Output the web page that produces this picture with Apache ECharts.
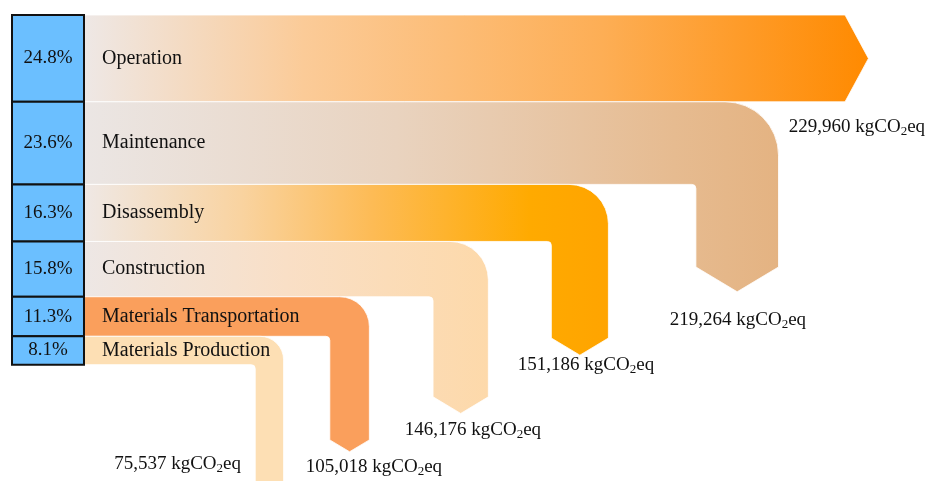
<!DOCTYPE html>
<html>
<head>
<meta charset="utf-8">
<script src="https://cdn.jsdelivr.net/npm/echarts@6/dist/echarts.min.js"></script>
<style>html,body{margin:0;padding:0;background:#fff}#chart{width:925px;height:481px}</style>
</head>
<body>
<div id="chart"></div>
<script>
// ---- data ----
const categories = ['Operation', 'Maintenance', 'Disassembly', 'Construction', 'Materials Transportation', 'Materials Production'];
const shares = [24.8, 23.6, 16.3, 15.8, 11.3, 8.1];
const emissions = [229960, 219264, 151186, 146176, 105018, 75537];
const unitLabel = 'kgCO';

// ---- layout (axis units: 1 unit = 1 percentage point) ----
const boxRight = 20.57;
const nameX = 25.71;
const bandOuterX = [238, 219, 170.4, 136.1, 102.1, 77.6];
const bandEndY = [null, 72, 92.3, 109.1, 121.4, 150];
const labelPos = [[241.4, 32], [207.4, 87.1], [164, 100], [131.7, 118.6], [103.4, 129.1], [47.3, 128.3]];

// ---- styles ----
const G = (stops) => new echarts.graphic.LinearGradient(0, 0, 1, 0, stops.map((c, k) => ({offset: c[0], color: c[1]})));
const bandFill = [
  G([[0, '#EEE8E6'], [0.28, '#FBCB98'], [0.66, '#FDAE55'], [1, '#FF8A00']]),
  G([[0, '#EBE6E4'], [0.45, '#E9D3BF'], [0.85, '#E6BB90'], [1, '#E4B382']]),
  G([[0, '#EFE8E5'], [0.3, '#F9D3A0'], [0.55, '#FDBB55'], [0.85, '#FFAA00'], [1, '#FFA400']]),
  G([[0, '#EDE7E5'], [0.5, '#F9DFC6'], [1, '#FDD9AA']]),
  '#FA9F5C',
  '#FDDFB4'
];
const FONT = '"Liberation Serif", "Times New Roman", serif';

const seriesData = categories.map((c, i) => {
  const start = shares.slice(0, i).reduce((a, b) => a + b, 0);
  return [i, start, start + shares[i], shares[i], emissions[i]];
});

function renderItem(params, api) {
  const i = api.value(0);
  const s = api.value(1), e = api.value(2);
  const p0 = api.coord([0, s]);
  const p1 = api.coord([boxRight, e]);
  const X0 = p0[0], L = p1[0], T = p0[1], B = p1[1];
  const w = B - T;
  let path;
  if (bandEndY[i] == null) {
    const E = api.coord([bandOuterX[i], s])[0];
    const tip = E + w * 0.27;
    path = `M${L} ${T}L${E} ${T}L${tip} ${(T + B) / 2}L${E} ${B}L${L} ${B}Z`;
  } else {
    const R = api.coord([bandOuterX[i], s])[0];
    const E = api.coord([0, bandEndY[i]])[1];
    const I = R - w;
    const ro = 0.55 * w + 8, ri = 4;
    const P = E + 0.3 * w;
    path = `M${L} ${T}L${R - ro} ${T}A${ro} ${ro} 0 0 1 ${R} ${T + ro}L${R} ${E}L${R - w / 2} ${P}L${I} ${E}L${I} ${B + ri}A${ri} ${ri} 0 0 0 ${I - ri} ${B}L${L} ${B}Z`;
  }
  const lp = api.coord(labelPos[i]);
  const nx = api.coord([nameX, s])[0];
  const valueText = `{n|${emissions[i].toLocaleString('en-US')} ${unitLabel}}{s|2}{n|eq}`;
  return {
    type: 'group',
    children: [
      {type: 'path', shape: {pathData: path}, style: {fill: bandFill[i], stroke: 'rgba(255,255,255,0.8)', lineWidth: 1}},
      {type: 'rect', shape: {x: X0, y: T, width: L - X0, height: w}, style: {fill: '#6BBFFF', stroke: '#111', lineWidth: 2}},
      {type: 'text', style: {text: shares[i].toFixed(1) + '%', x: (X0 + L) / 2, y: (T + B) / 2, align: 'center', verticalAlign: 'middle', fontSize: 19, fontFamily: FONT, fill: '#111'}},
      {type: 'text', style: {text: categories[i], x: nx, y: (T + B) / 2, align: 'left', verticalAlign: 'middle', fontSize: 20, fontFamily: FONT, fill: '#111'}},
      {type: 'text', style: {text: valueText, x: lp[0], y: lp[1], align: 'center', verticalAlign: 'middle',
        rich: {
          n: {fontSize: 19, fontFamily: FONT, fill: '#111', lineHeight: 22},
          s: {fontSize: 13, fontFamily: FONT, fill: '#111', lineHeight: 14, verticalAlign: 'bottom'}
        }}}
    ]
  };
}

const chart = echarts.init(document.getElementById('chart'), null, {renderer: 'canvas'});
chart.setOption({
  animation: false,
  backgroundColor: '#fff',
  grid: {left: 0, right: 0, top: 0, bottom: 0},
  xAxis: {type: 'value', min: -12 / 3.5, max: 913 / 3.5, show: false},
  yAxis: {type: 'value', inverse: true, min: -15 / 3.5, max: 466 / 3.5, show: false},
  series: [{
    type: 'custom',
    coordinateSystem: 'cartesian2d',
    renderItem: renderItem,
    encode: {x: 3, y: 1},
    data: seriesData
  }]
});
</script>
</body>
</html>
